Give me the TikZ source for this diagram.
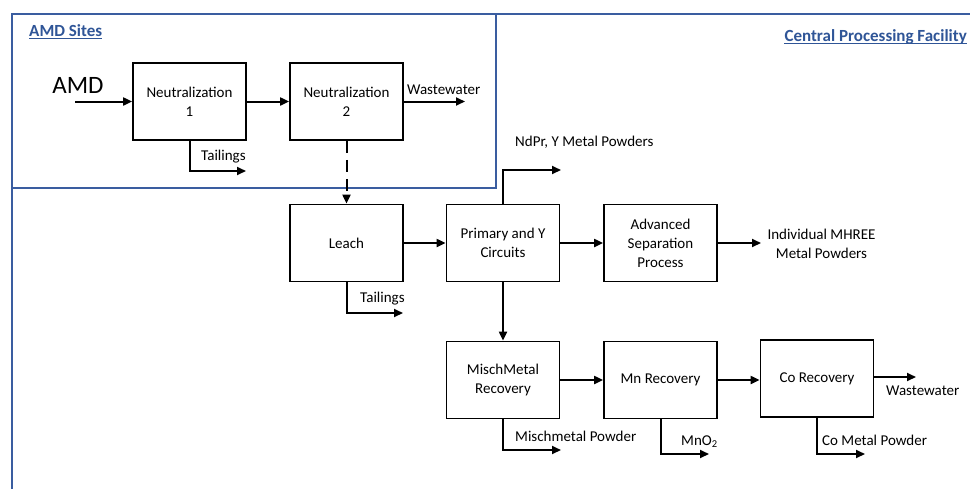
\documentclass[tikz,border=0pt]{standalone}
\usepackage{fontspec}
\setmainfont{Carlito}
\usetikzlibrary{arrows.meta}
\definecolor{frameblue}{HTML}{3A5DA0}
\definecolor{titleblue}{HTML}{2F5597}
\tikzset{
  procbox/.style={draw=black, line width=1.8pt, minimum width=113pt, minimum height=77pt, align=center, inner sep=2pt},
  flow/.style={line width=2pt, -{Triangle[length=9pt,width=8pt]}},
  dashflow/.style={flow, dash pattern=on 12pt off 7pt},
  lbl/.style={inner sep=0pt, anchor=west},
  frameline/.style={draw=frameblue, line width=1.6pt},
  titletxt/.style={inner sep=0pt, anchor=base west, text=titleblue, font=\fontsize{17}{20}\selectfont\bfseries},
  ulline/.style={draw=titleblue, line width=1.2pt}
}
\begin{document}
\begin{tikzpicture}[x=1pt,y=-1pt, font=\fontsize{15}{19}\selectfont]
\useasboundingbox (0,0) rectangle (970,488);
% frames
\draw[frameline] (12,490) -- (12,14) -- (972,14);
\draw[frameline] (12,14) rectangle (496,188);
% titles
\node[titletxt] (amdsites) at (29,36) {AMD Sites};
\draw[ulline] ([yshift=-2.6pt]amdsites.base west) -- ([yshift=-2.6pt]amdsites.base east);
\node[titletxt, anchor=base east] (cpf) at (967,41) {Central Processing Facility};
\draw[ulline] ([yshift=-2.6pt]cpf.base west) -- ([yshift=-2.6pt]cpf.base east);
% process boxes
\node[procbox] (n1) at (189.5,101.5) {Neutralization\\1};
\node[procbox] (n2) at (346.5,101.5) {Neutralization\\2};
\node[procbox] (leach) at (346.5,243) {Leach};
\node[procbox] (prim) at (503,243) {Primary and Y\\Circuits};
\node[procbox] (adv) at (660.5,243) {Advanced\\Separation\\Process};
\node[procbox] (misch) at (503,380) {MischMetal\\Recovery};
\node[procbox] (mn) at (660.5,380) {Mn Recovery};
\node[procbox] (co) at (817,378.5) {Co Recovery};
% AMD feed
\node[inner sep=0pt, font=\fontsize{25}{28}\selectfont] (amd) at (78,85) {AMD};
\coordinate (amdin) at (75,101.5);
\draw[flow] (amdin) -- (n1.west);
\draw[flow] (n1) -- (n2);
\coordinate (ww1) at (465,101.5);
\draw[flow] (n2.east) -- (ww1);
\node[lbl] (ww1l) at (407,90) {Wastewater};
\coordinate (t1) at (246,171);
\draw[flow] (n1.south) |- (t1);
\node[lbl] (t1l) at (201,157) {Tailings};
\draw[dashflow] (n2.south) -- (leach.north);
% leach
\draw[flow] (leach) -- (prim);
\coordinate (t2) at (403,313);
\draw[flow] (leach.south) |- (t2);
\node[lbl] (t2l) at (360,299) {Tailings};
% primary
\coordinate (ndpr) at (561,170);
\draw[flow] (prim.north) |- (ndpr);
\node[lbl] (ndprl) at (515,142) {NdPr, Y Metal Powders};
\draw[flow] (prim) -- (adv);
\coordinate (mhree) at (761,243);
\draw[flow] (adv.east) -- (mhree);
\node[align=center, inner sep=0pt] (mhreel) at (821.5,243.5) {Individual MHREE\\Metal Powders};
\draw[flow] (prim) -- (misch);
% lower row
\draw[flow] (misch) -- (mn);
\draw[flow] (mn.east) -- (mn.east -| co.west);
\coordinate (ww2) at (916,377);
\draw[flow] (co.east |- ww2) -- (ww2);
\node[lbl] (ww2l) at (886,391) {Wastewater};
\coordinate (mp) at (561,450);
\draw[flow] (misch.south) |- (mp);
\node[lbl] (mpl) at (515,436) {Mischmetal Powder};
\coordinate (mno) at (709,454);
\draw[flow] (mn.south) |- (mno);
\node[lbl] (mnol) at (681,442) {MnO\textsubscript{2}};
\coordinate (cmp) at (865,454);
\draw[flow] (co.south) |- (cmp);
\node[lbl] (cmpl) at (822,440) {Co Metal Powder};
\end{tikzpicture}
\end{document}
